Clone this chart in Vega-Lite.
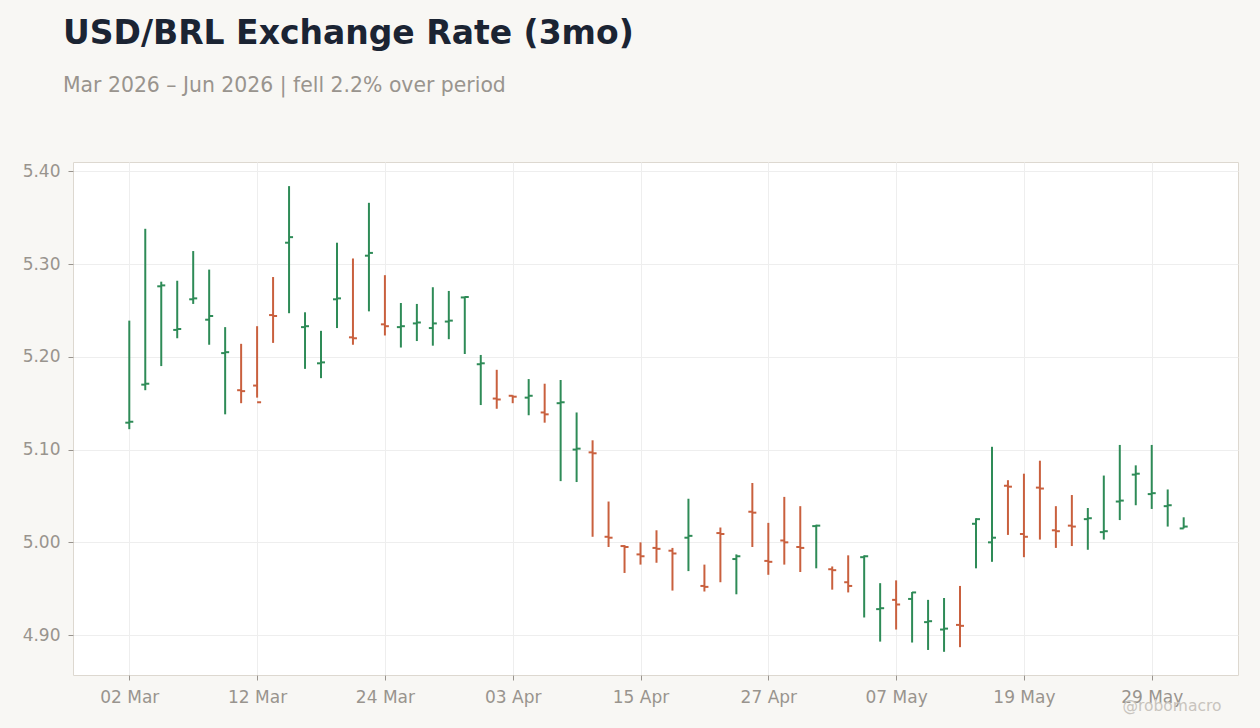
{
  "$schema": "https://vega.github.io/schema/vega-lite/v6.json",
  "width": 1165,
  "height": 513,
  "autosize": "none",
  "padding": {"left": 73, "top": 162, "right": 22, "bottom": 53},
  "background": "#f8f7f4",
  "title": {
    "text": "USD/BRL Exchange Rate (3mo)",
    "subtitle": "Mar 2026 – Jun 2026 | fell 2.2% over period",
    "anchor": "start",
    "frame": "group",
    "dx": -10,
    "offset": 66,
    "font": "DejaVu Sans",
    "fontSize": 33,
    "fontWeight": "bold",
    "color": "#1b2433",
    "subtitleFont": "DejaVu Sans",
    "subtitleFontSize": 20.4,
    "subtitleColor": "#99948e",
    "subtitlePadding": 25
  },
  "config": {
    "view": {"fill": "white", "stroke": "#ddd8d0", "strokeWidth": 1},
    "axis": {
      "labelFont": "DejaVu Sans",
      "labelFontSize": 17,
      "labelColor": "#99948e",
      "tickColor": "#99948e",
      "tickSize": 5,
      "domain": false,
      "gridColor": "#eeeeee",
      "gridWidth": 1
    }
  },
  "data": {
    "values": [
      {"idx": 0, "date": "02 Mar", "open": 5.129, "high": 5.239, "low": 5.122, "close": 5.130},
      {"idx": 1, "date": "03 Mar", "open": 5.170, "high": 5.338, "low": 5.164, "close": 5.171},
      {"idx": 2, "date": "04 Mar", "open": 5.276, "high": 5.281, "low": 5.190, "close": 5.277},
      {"idx": 3, "date": "05 Mar", "open": 5.229, "high": 5.282, "low": 5.220, "close": 5.230},
      {"idx": 4, "date": "06 Mar", "open": 5.262, "high": 5.314, "low": 5.257, "close": 5.263},
      {"idx": 5, "date": "09 Mar", "open": 5.240, "high": 5.294, "low": 5.213, "close": 5.244},
      {"idx": 6, "date": "10 Mar", "open": 5.204, "high": 5.232, "low": 5.138, "close": 5.205},
      {"idx": 7, "date": "11 Mar", "open": 5.164, "high": 5.214, "low": 5.150, "close": 5.163},
      {"idx": 8, "date": "12 Mar", "open": 5.169, "high": 5.233, "low": 5.156, "close": 5.151},
      {"idx": 9, "date": "13 Mar", "open": 5.245, "high": 5.286, "low": 5.215, "close": 5.244},
      {"idx": 10, "date": "16 Mar", "open": 5.323, "high": 5.384, "low": 5.247, "close": 5.329},
      {"idx": 11, "date": "17 Mar", "open": 5.232, "high": 5.248, "low": 5.187, "close": 5.233},
      {"idx": 12, "date": "18 Mar", "open": 5.193, "high": 5.228, "low": 5.177, "close": 5.194},
      {"idx": 13, "date": "19 Mar", "open": 5.262, "high": 5.323, "low": 5.231, "close": 5.263},
      {"idx": 14, "date": "20 Mar", "open": 5.221, "high": 5.306, "low": 5.213, "close": 5.220},
      {"idx": 15, "date": "23 Mar", "open": 5.309, "high": 5.366, "low": 5.249, "close": 5.312},
      {"idx": 16, "date": "24 Mar", "open": 5.235, "high": 5.288, "low": 5.223, "close": 5.233},
      {"idx": 17, "date": "25 Mar", "open": 5.232, "high": 5.258, "low": 5.210, "close": 5.233},
      {"idx": 18, "date": "26 Mar", "open": 5.236, "high": 5.257, "low": 5.217, "close": 5.237},
      {"idx": 19, "date": "27 Mar", "open": 5.231, "high": 5.275, "low": 5.212, "close": 5.236},
      {"idx": 20, "date": "30 Mar", "open": 5.238, "high": 5.271, "low": 5.219, "close": 5.239},
      {"idx": 21, "date": "31 Mar", "open": 5.264, "high": 5.265, "low": 5.203, "close": 5.2645},
      {"idx": 22, "date": "01 Apr", "open": 5.192, "high": 5.202, "low": 5.148, "close": 5.193},
      {"idx": 23, "date": "02 Apr", "open": 5.155, "high": 5.186, "low": 5.144, "close": 5.154},
      {"idx": 24, "date": "03 Apr", "open": 5.158, "high": 5.1585, "low": 5.150, "close": 5.157},
      {"idx": 25, "date": "06 Apr", "open": 5.156, "high": 5.176, "low": 5.137, "close": 5.158},
      {"idx": 26, "date": "07 Apr", "open": 5.140, "high": 5.171, "low": 5.129, "close": 5.138},
      {"idx": 27, "date": "08 Apr", "open": 5.150, "high": 5.175, "low": 5.066, "close": 5.151},
      {"idx": 28, "date": "09 Apr", "open": 5.100, "high": 5.140, "low": 5.065, "close": 5.101},
      {"idx": 29, "date": "10 Apr", "open": 5.097, "high": 5.110, "low": 5.006, "close": 5.096},
      {"idx": 30, "date": "13 Apr", "open": 5.006, "high": 5.044, "low": 4.995, "close": 5.005},
      {"idx": 31, "date": "14 Apr", "open": 4.996, "high": 4.997, "low": 4.967, "close": 4.995},
      {"idx": 32, "date": "15 Apr", "open": 4.987, "high": 5.000, "low": 4.976, "close": 4.985},
      {"idx": 33, "date": "16 Apr", "open": 4.994, "high": 5.013, "low": 4.978, "close": 4.993},
      {"idx": 34, "date": "17 Apr", "open": 4.991, "high": 4.994, "low": 4.948, "close": 4.988},
      {"idx": 35, "date": "20 Apr", "open": 5.005, "high": 5.047, "low": 4.969, "close": 5.007},
      {"idx": 36, "date": "21 Apr", "open": 4.953, "high": 4.976, "low": 4.947, "close": 4.952},
      {"idx": 37, "date": "22 Apr", "open": 5.010, "high": 5.016, "low": 4.957, "close": 5.009},
      {"idx": 38, "date": "23 Apr", "open": 4.982, "high": 4.987, "low": 4.944, "close": 4.985},
      {"idx": 39, "date": "24 Apr", "open": 5.033, "high": 5.064, "low": 4.995, "close": 5.032},
      {"idx": 40, "date": "27 Apr", "open": 4.980, "high": 5.021, "low": 4.965, "close": 4.979},
      {"idx": 41, "date": "28 Apr", "open": 5.002, "high": 5.049, "low": 4.976, "close": 5.000},
      {"idx": 42, "date": "29 Apr", "open": 4.995, "high": 5.039, "low": 4.968, "close": 4.994},
      {"idx": 43, "date": "30 Apr", "open": 5.0175, "high": 5.019, "low": 4.972, "close": 5.018},
      {"idx": 44, "date": "01 May", "open": 4.971, "high": 4.974, "low": 4.949, "close": 4.970},
      {"idx": 45, "date": "04 May", "open": 4.957, "high": 4.986, "low": 4.946, "close": 4.953},
      {"idx": 46, "date": "05 May", "open": 4.984, "high": 4.986, "low": 4.919, "close": 4.985},
      {"idx": 47, "date": "06 May", "open": 4.928, "high": 4.956, "low": 4.893, "close": 4.929},
      {"idx": 48, "date": "07 May", "open": 4.938, "high": 4.959, "low": 4.906, "close": 4.933},
      {"idx": 49, "date": "08 May", "open": 4.939, "high": 4.9465, "low": 4.892, "close": 4.946},
      {"idx": 50, "date": "11 May", "open": 4.914, "high": 4.938, "low": 4.884, "close": 4.915},
      {"idx": 51, "date": "12 May", "open": 4.906, "high": 4.940, "low": 4.882, "close": 4.907},
      {"idx": 52, "date": "13 May", "open": 4.911, "high": 4.953, "low": 4.887, "close": 4.910},
      {"idx": 53, "date": "14 May", "open": 5.020, "high": 5.026, "low": 4.972, "close": 5.025},
      {"idx": 54, "date": "15 May", "open": 5.000, "high": 5.103, "low": 4.979, "close": 5.005},
      {"idx": 55, "date": "18 May", "open": 5.061, "high": 5.067, "low": 5.008, "close": 5.060},
      {"idx": 56, "date": "19 May", "open": 5.009, "high": 5.074, "low": 4.984, "close": 5.006},
      {"idx": 57, "date": "20 May", "open": 5.059, "high": 5.088, "low": 5.003, "close": 5.058},
      {"idx": 58, "date": "21 May", "open": 5.013, "high": 5.039, "low": 4.994, "close": 5.012},
      {"idx": 59, "date": "22 May", "open": 5.018, "high": 5.051, "low": 4.996, "close": 5.017},
      {"idx": 60, "date": "25 May", "open": 5.025, "high": 5.037, "low": 4.992, "close": 5.026},
      {"idx": 61, "date": "26 May", "open": 5.011, "high": 5.072, "low": 5.003, "close": 5.012},
      {"idx": 62, "date": "27 May", "open": 5.044, "high": 5.105, "low": 5.024, "close": 5.045},
      {"idx": 63, "date": "28 May", "open": 5.073, "high": 5.083, "low": 5.040, "close": 5.074},
      {"idx": 64, "date": "29 May", "open": 5.052, "high": 5.105, "low": 5.036, "close": 5.053},
      {"idx": 65, "date": "01 Jun", "open": 5.039, "high": 5.057, "low": 5.017, "close": 5.040},
      {"idx": 66, "date": "02 Jun", "open": 5.015, "high": 5.027, "low": 5.015, "close": 5.017}
    ]
  },
  "encoding": {
    "x": {
      "field": "idx",
      "type": "quantitative",
      "scale": {"domain": [-3.524, 69.4], "nice": false, "zero": false},
      "axis": {
        "values": [0, 8, 16, 24, 32, 40, 48, 56, 64],
        "labelExpr": "['02 Mar', '12 Mar', '24 Mar', '03 Apr', '15 Apr', '27 Apr', '07 May', '19 May', '29 May'][datum.value / 8]",
        "labelPadding": 9,
        "labelFlush": false,
        "labelOverlap": false,
        "grid": true,
        "title": "@robomacro",
        "titleFont": "DejaVu Sans",
        "titleFontSize": 15.5,
        "titleFontWeight": "normal",
        "titleColor": "#c8c4be",
        "titleAlign": "right",
        "titleAnchor": "end",
        "titleX": 1148,
        "titleY": 35,
        "titleBaseline": "alphabetic"
      }
    },
    "color": {
      "condition": {"test": "datum.close >= datum.open", "value": "#2e8b57"},
      "value": "#c9603e"
    }
  },
  "layer": [
    {
      "mark": {"type": "rule", "strokeWidth": 2},
      "encoding": {
        "y": {
          "field": "low",
          "type": "quantitative",
          "scale": {"domain": [4.857, 5.41], "nice": false, "zero": false},
          "axis": {
            "values": [4.9, 5.0, 5.1, 5.2, 5.3, 5.4],
            "format": ".2f",
            "labelPadding": 8,
            "grid": true,
            "title": null
          }
        },
        "y2": {"field": "high"}
      }
    },
    {
      "mark": {"type": "rule", "strokeWidth": 2, "xOffset": -4, "x2Offset": 0},
      "encoding": {
        "x2": {"field": "idx"},
        "y": {"field": "open", "type": "quantitative"}
      }
    },
    {
      "mark": {"type": "rule", "strokeWidth": 2, "xOffset": 0, "x2Offset": 4},
      "encoding": {
        "x2": {"field": "idx"},
        "y": {"field": "close", "type": "quantitative"}
      }
    }
  ]
}
